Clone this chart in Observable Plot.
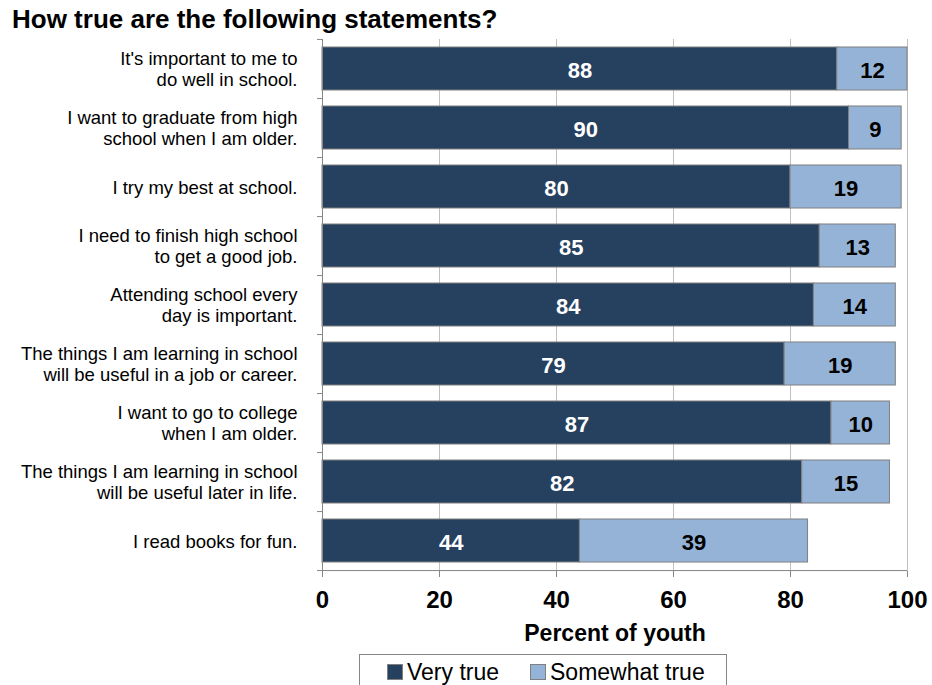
<!DOCTYPE html>
<html>
<head>
<meta charset="utf-8">
<script src="https://cdn.jsdelivr.net/npm/d3@7"></script>
<script src="https://cdn.jsdelivr.net/npm/@observablehq/plot@0.6"></script>
<style>
  html, body { margin: 0; padding: 0; background: #fff; }
  body { width: 932px; height: 685px; position: relative; overflow: hidden; font-family: "Liberation Sans", Arial, sans-serif; }
  #title { position: absolute; left: 12px; top: 0; font-size: 26px; font-weight: bold; line-height: 38px; color: #000; white-space: nowrap; }
  #chart { position: absolute; left: 0; top: 38px; }
  #legend { position: absolute; left: 359px; top: 654px; width: 368px; height: 40px; border: 1px solid #868686; box-sizing: border-box; font-size: 23px; color: #000; }
  .item { position: absolute; top: 4px; white-space: nowrap; line-height: 26px; }
  .sw { display: inline-block; width: 14px; height: 14px; border: 1px solid #7f7f7f; margin-right: 4px; vertical-align: 0px; }
</style>
</head>
<body>
<div id="title">How true are the following statements?</div>
<div id="chart"></div>
<div id="legend"></div>
<script>
const statements = [
  "It's important to me to\ndo well in school.",
  "I want to graduate from high\nschool when I am older.",
  "I try my best at school.",
  "I need to finish high school\nto get a good job.",
  "Attending school every\nday is important.",
  "The things I am learning in school\nwill be useful in a job or career.",
  "I want to go to college\nwhen I am older.",
  "The things I am learning in school\nwill be useful later in life.",
  "I read books for fun."
];
const veryTrue = [88, 90, 80, 85, 84, 79, 87, 82, 44];
const somewhatTrue = [12, 9, 19, 13, 14, 19, 10, 15, 39];
const seriesNames = ["Very true", "Somewhat true"];
const seriesColors = ["#264060", "#95B3D7"];
const xTicks = [0, 20, 40, 60, 80, 100];
const xLabel = "Percent of youth";

const data = statements.flatMap((s, i) => [
  {statement: s, type: seriesNames[0], value: veryTrue[i]},
  {statement: s, type: seriesNames[1], value: somewhatTrue[i]}
]);

const W = 932, H = 612, mT = 1, mB = 79, mL = 322, mR = 25;
const step = (H - mT - mB) / statements.length;
const axisGray = "#868686";

const stackOpts = {x: "value", y: "statement", z: "type", text: "value"};

const chart = Plot.plot({
  width: W, height: H,
  marginLeft: mL, marginRight: mR, marginTop: mT, marginBottom: mB,
  style: {fontFamily: '"Liberation Sans", Arial, sans-serif', background: "white", color: "#000", overflow: "visible"},
  x: {domain: [0, 100], ticks: xTicks},
  y: {domain: statements, paddingInner: 0.27, paddingOuter: 0.135, label: null},
  color: {domain: seriesNames, range: seriesColors},
  marks: [
    Plot.gridX(xTicks.slice(1), {stroke: "#c0c0c0", strokeOpacity: 1}),
    Plot.barX(data, {x: "value", y: "statement", fill: "type", stroke: "#7f7f7f", strokeWidth: 1}),
    Plot.text(data, Plot.filter(d => d.type === seriesNames[0], Plot.stackX({...stackOpts, fill: "white", fontSize: 22, fontWeight: "bold", dy: 2}))),
    Plot.text(data, Plot.filter(d => d.type === seriesNames[1], Plot.stackX({...stackOpts, fill: "black", fontSize: 22, fontWeight: "bold", dy: 2}))),
    Plot.ruleX([0], {stroke: axisGray}),
    Plot.ruleY([statements[statements.length - 1]], {x1: 0, x2: 100, dy: step / 2, stroke: axisGray}),
    Plot.axisX({ticks: xTicks, tickSize: 6, tickPadding: 13, fontSize: 24, fontWeight: "bold", label: null, stroke: axisGray, fill: "#000"}),
    Plot.axisY({tickSize: 0, tickPadding: 25, fontSize: 18.5, lineHeight: 1.1, label: null, fill: "#000"}),
    Plot.axisY({ticks: statements, tickSize: 5, tickFormat: () => "", dy: step / 2, label: null, stroke: axisGray}),
    Plot.axisY({ticks: [statements[0]], tickSize: 5, tickFormat: () => "", dy: -step / 2, label: null, stroke: axisGray}),
    Plot.text([xLabel], {frameAnchor: "bottom", dy: 69, fontSize: 23, fontWeight: "bold", fill: "#000"})
  ]
});
document.getElementById("chart").appendChild(chart);

const legend = document.getElementById("legend");
const lefts = [27, 170];
seriesNames.forEach((name, i) => {
  const it = document.createElement("div");
  it.className = "item";
  it.style.left = lefts[i] + "px";
  const sw = document.createElement("span");
  sw.className = "sw";
  sw.style.background = seriesColors[i];
  it.appendChild(sw);
  it.appendChild(document.createTextNode(name));
  legend.appendChild(it);
});
</script>
</body>
</html>
